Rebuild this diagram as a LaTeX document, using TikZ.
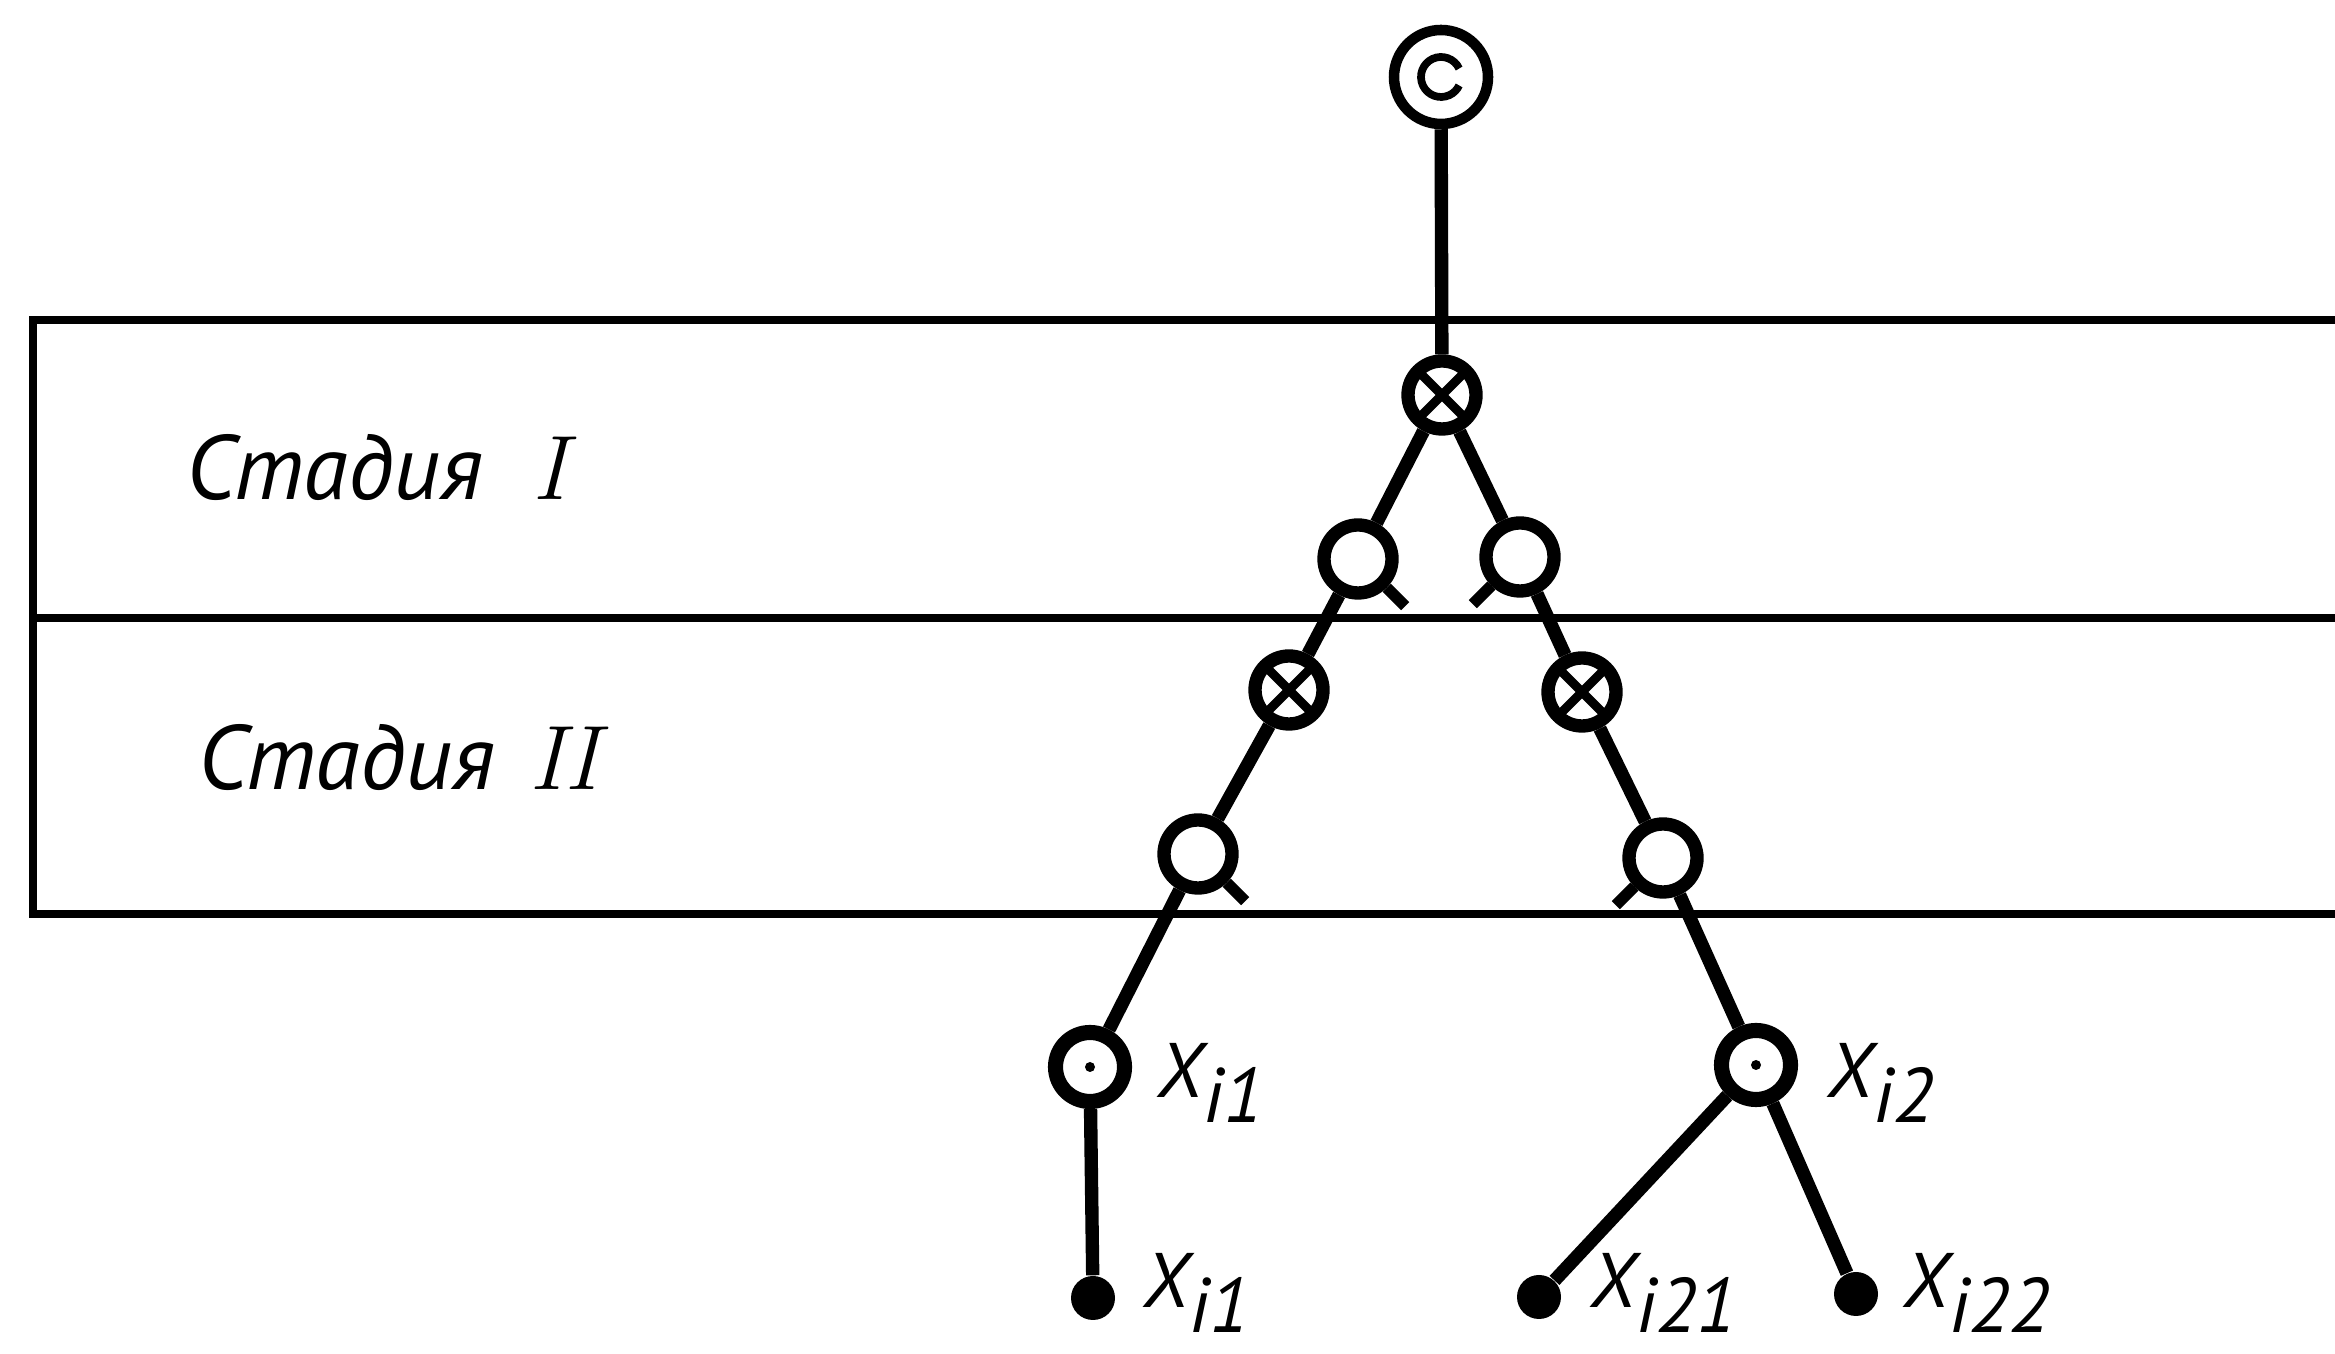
\documentclass[tikz,border=0pt]{standalone}
\usepackage{fontspec}
\newfontfamily\stfont{PT Sans}
\newcommand{\xsub}[1]{\raisebox{-7pt}{#1}}

\begin{document}
\begin{tikzpicture}[
    ring/.style={circle, draw, line width=3.8pt, minimum size=0.68cm, inner sep=0pt},
    otim/.style={ring, path picture={
      \draw[line width=2.6pt] (path picture bounding box.north west) -- (path picture bounding box.south east)
        (path picture bounding box.north east) -- (path picture bounding box.south west);}},
    odt/.style={ring, line width=4.3pt, minimum size=0.69cm,
      path picture={\fill (path picture bounding box.center) circle (0.05);}},
    leaf/.style={circle, fill, minimum size=0.44cm, inner sep=0pt},
    link/.style={line width=3.8pt},
    tick/.style={line width=3.3pt},
    lbl/.style={anchor=base west, inner sep=0pt, font=\stfont\itshape\fontsize{22}{24}\selectfont},
    stage/.style={anchor=base west, inner sep=0pt, font=\stfont\itshape\fontsize{26}{30}\selectfont},
  ]
  \useasboundingbox (0,0) rectangle (23.35,13.54);

  % stage table
  \coordinate (TL) at (0.33,10.34);
  \coordinate (ML) at (0.33,7.36);
  \coordinate (BL) at (0.33,4.40);
  \coordinate (TR) at (23.35,10.34);
  \coordinate (MR) at (23.35,7.36);
  \coordinate (BR) at (23.35,4.40);
  \draw[line width=2.3pt] (TR) -- (TL) -- (BL) -- (BR);
  \draw[line width=2.3pt] (ML) -- (MR);

  \node[stage] (s1) at (1.86,8.54) {Стадия\hspace{0.5cm}{\rmfamily\itshape I}};
  \node[stage] (s2) at (1.98,5.64) {Стадия\hspace{0.35cm}{\rmfamily\itshape II}};

  % tree
  \node[ring, minimum size=0.94cm, line width=3pt] (T) at (14.41,12.77) {};
  \draw[line width=2.2pt] (T.center) ++(25:0.2) arc (25:335:0.2);

  \node[otim] (A) at (14.42,9.59) {};
  \node[ring] (L1) at (13.58,7.95) {};
  \node[ring] (R1) at (15.20,7.97) {};
  \node[otim] (B) at (12.89,6.64) {};
  \node[otim] (C) at (15.82,6.62) {};
  \node[ring] (L2) at (11.98,5.00) {};
  \node[ring] (R2) at (16.63,4.96) {};
  \node[odt] (X1) at (10.90,2.87) {};
  \node[odt] (X2) at (17.56,2.89) {};
  \node[leaf] (Y1) at (10.93,0.56) {};
  \node[leaf] (Y21) at (15.39,0.57) {};
  \node[leaf] (Y22) at (18.56,0.60) {};

  \draw[link] (T) -- (A) -- (L1) -- (B) -- (L2) -- (X1) -- (Y1);
  \draw[link] (A) -- (R1) -- (C) -- (R2) -- (X2);
  \draw[link] (X2) -- (Y21);
  \draw[link] (X2) -- (Y22);

  \draw[tick] (L1.-45) -- ++(-45:0.26);
  \draw[tick] (R1.-135) -- ++(-135:0.26);
  \draw[tick] (L2.-45) -- ++(-45:0.26);
  \draw[tick] (R2.-135) -- ++(-135:0.26);

  \node[lbl] (lX1) at (11.57,2.56) {X\xsub{i1}};
  \node[lbl] (lX2) at (18.27,2.56) {X\xsub{i2}};
  \node[lbl] (lY1) at (11.43,0.46) {X\xsub{i1}};
  \node[lbl] (lY21) at (15.90,0.46) {X\xsub{i21}};
  \node[lbl] (lY22) at (19.03,0.46) {X\xsub{i22}};
\end{tikzpicture}
\end{document}
